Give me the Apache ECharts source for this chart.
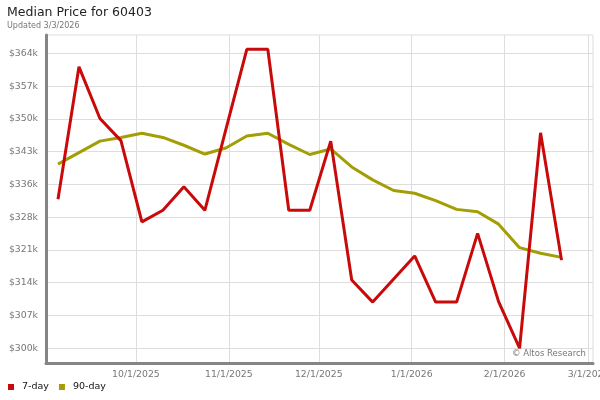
<!DOCTYPE html>
<html><head><meta charset="utf-8">
<script src="https://cdn.jsdelivr.net/npm/echarts@6/dist/echarts.min.js"></script>
<style>html,body{margin:0;padding:0;background:#fff}#c{width:600px;height:400px}</style>
</head><body><div id="c"></div>
<script>
const weekDates = ['2025-09-05','2025-09-12','2025-09-19','2025-09-26','2025-10-03','2025-10-10','2025-10-17','2025-10-24','2025-10-31','2025-11-07','2025-11-14','2025-11-21','2025-11-28','2025-12-05','2025-12-12','2025-12-19','2025-12-26','2026-01-02','2026-01-09','2026-01-16','2026-01-23','2026-01-30','2026-02-06','2026-02-13','2026-02-20'];
const sevenDay = [332300,361000,349800,345000,327400,329900,335000,329900,347400,364800,364800,329900,329900,344900,314800,310000,315000,320000,310000,310000,324900,310100,300000,346700,319100];
const ninetyDay = [339900,342400,344900,345700,346600,345700,344000,342100,343400,346000,346600,344200,342000,343200,339300,336500,334200,333600,332000,330100,329600,326900,321800,320600,319700];
const yTickValues = [300000,307100,314200,321300,328400,335500,342600,349700,356800,363900];
const xTickDates = ['2025-10-01','2025-11-01','2025-12-01','2026-01-01','2026-02-01','2026-03-01'];
const seriesNames = ['7-day','90-day'];

const toTime = s => { const [y,m,d] = s.split('-').map(Number); return new Date(y, m-1, d).getTime(); };
const chart = echarts.init(document.getElementById('c'), null, {renderer:'canvas'});
const font = 'DejaVu Sans';
chart.setOption({
  animation: false,
  backgroundColor: '#fff',
  title: {
    text: 'Median Price for 60403', subtext: 'Updated 3/3/2026',
    left: 7, top: 6, itemGap: 3, padding: 0,
    textStyle: {fontFamily: font, fontSize: 12.5, fontWeight: 'normal', color: '#222'},
    subtextStyle: {fontFamily: font, fontSize: 8, color: '#777'}
  },
  legend: {
    data: seriesNames, left: 8, top: 382, padding: 0, icon: 'rect', itemWidth: 6, itemHeight: 6, itemGap: 10,
    textStyle: {fontFamily: font, fontSize: 9.5, color: '#111', padding: [0,0,0,3]}
  },
  grid: {left: 46, right: 7, top: 35, bottom: 37, show: true, borderColor: '#ddd', borderWidth: 1, containLabel: false, outerBoundsMode: 'none'},
  xAxis: {
    type: 'value', min: toTime('2025-09-01'), max: toTime('2026-03-02') + 12*3600*1000,
    axisLine: {show: true, lineStyle: {color: '#858585', width: 3}},
    axisTick: {show: false, customValues: xTickDates.map(toTime)},
    axisLabel: {customValues: xTickDates.map(toTime), margin: 7, fontFamily: font, fontSize: 9.3, color: '#777',
      formatter: v => { const d = new Date(v); return (d.getMonth()+1) + '/' + d.getDate() + '/' + d.getFullYear(); }},
    splitLine: {show: true, lineStyle: {color: '#ddd', width: 1}}
  },
  yAxis: {
    type: 'value', min: 296800, max: 367900,
    axisLine: {show: true, lineStyle: {color: '#858585', width: 3}},
    axisTick: {show: false, customValues: yTickValues},
    axisLabel: {customValues: yTickValues, margin: 8, fontFamily: font, fontSize: 9.3, color: '#777',
      formatter: v => '$' + Math.round(v/1000) + 'k'},
    splitLine: {show: true, lineStyle: {color: '#ddd', width: 1}}
  },
  graphic: [{type: 'text', right: 14, top: 349, style: {text: '© Altos Research', fontFamily: font, fontSize: 8.5, fill: '#777'}}],
  series: [
    {name: seriesNames[0], type: 'line', showSymbol: false, data: weekDates.map((d,i) => [toTime(d), sevenDay[i]]),
     itemStyle: {color: '#c80a0a'}, lineStyle: {color: '#c80a0a', width: 3}, z: 3},
    {name: seriesNames[1], type: 'line', showSymbol: false, data: weekDates.map((d,i) => [toTime(d), ninetyDay[i]]),
     itemStyle: {color: '#a39e05'}, lineStyle: {color: '#a39e05', width: 3}, z: 2}
  ]
});
</script></body></html>
